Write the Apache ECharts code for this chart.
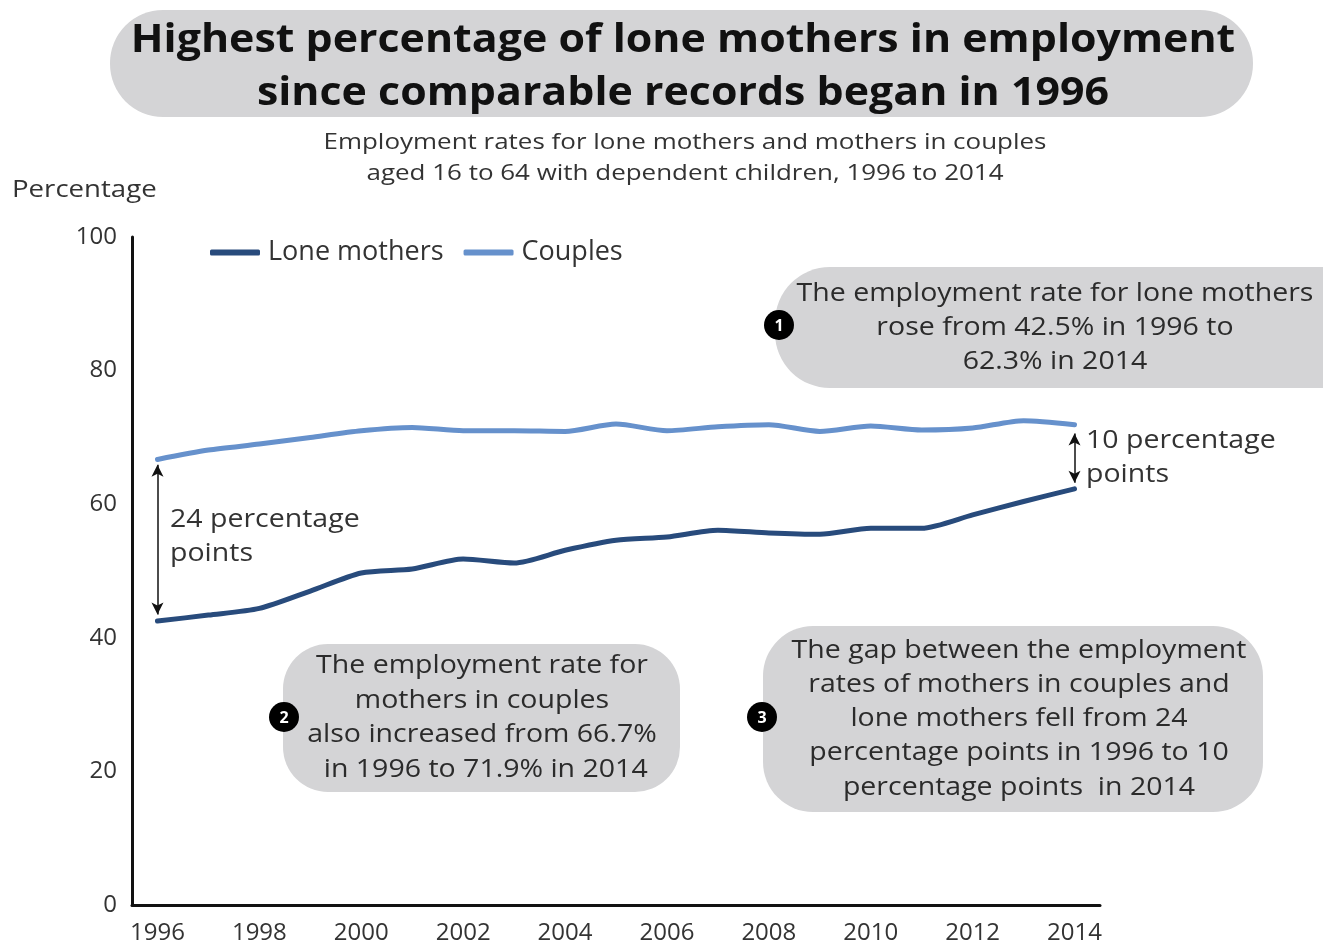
<!DOCTYPE html>
<html><head><meta charset="utf-8">
<script src="https://cdn.jsdelivr.net/npm/echarts@6/dist/echarts.min.js"></script>
<style>html,body{margin:0;padding:0;background:#fff}#c{width:1323px;height:948px}</style>
</head><body><div id="c"></div>
<script>
const years = ['1996','1997','1998','1999','2000','2001','2002','2003','2004','2005','2006','2007','2008','2009','2010','2011','2012','2013','2014'];
const loneMothers = [42.5,43.4,44.4,47.0,49.7,50.3,51.8,51.2,53.1,54.6,55.1,56.1,55.7,55.5,56.4,56.4,58.4,60.4,62.3];
const couples = [66.7,68.1,69.0,70.0,71.0,71.5,71.0,71.0,70.9,72.0,71.0,71.6,71.9,70.9,71.7,71.1,71.4,72.5,71.9];
const yTicks = [0,20,40,60,80,100];

const FONT = "'Open Sans', sans-serif";
const chart = echarts.init(document.getElementById('c'), null, {renderer:'canvas'});

function txt(text, x, y, font, fill, align, lh, sx) {
  return {type:'text', x:x, y:y, scaleX:sx||1, z:2,
    style:{text:text, x:0, y:0, font:font, fill:fill, align:align, verticalAlign:'middle', lineHeight:lh||0}};
}

function bubble(x, y, w, h, r, lines, cx, cy, num, tx, lh) {
  return [
    {type:'rect', shape:{x:x, y:y, width:w, height:h, r:r}, style:{fill:'#d4d4d6'}, z:1},
    txt(lines, tx, y+h/2, '25px '+FONT, '#2b2b2b', 'center', lh, 1.14),
    {type:'circle', shape:{cx:cx, cy:cy, r:15}, style:{fill:'#000'}, z:3},
    {type:'text', z:4, style:{text:num, x:cx, y:cy+1, font:'bold 16px '+FONT, fill:'#fff', align:'center', verticalAlign:'middle'}}
  ];
}

const arrowLine = (from, to) => ({
  symbol:['arrow','arrow'], symbolSize:[9,12], silent:true,
  lineStyle:{color:'#111', width:1.5, type:'solid'},
  label:{show:false},
  data:[[{coord:[from[0], from[1]]},{coord:[to[0], to[1]]}]]
});

const option = {
  animation:false,
  textStyle:{fontFamily:FONT},
  grid:{left:132, right:223, top:237, bottom:43, containLabel:false},
  legend:{
    left:205, top:234, itemWidth:50, itemHeight:6, itemGap:20, icon:'roundRect',
    textStyle:{fontSize:27, color:'#333', fontFamily:FONT, padding:[0,0,0,3]},
    data:['Lone mothers','Couples']
  },
  xAxis:{
    type:'category', data:years, boundaryGap:true,
    axisLine:{lineStyle:{color:'#111', width:3}},
    axisTick:{show:false},
    axisLabel:{interval:1, fontSize:24, color:'#333', margin:16, fontFamily:FONT}
  },
  yAxis:{
    type:'value', min:0, max:100, interval:20,
    axisLine:{show:true, lineStyle:{color:'#111', width:3}},
    axisTick:{show:false},
    splitLine:{show:false},
    axisLabel:{fontSize:24, color:'#333', margin:15, fontFamily:FONT}
  },
  series:[
    {name:'Lone mothers', type:'line', data:loneMothers, smooth:0.25, showSymbol:false,
     lineStyle:{color:'#284b7c', width:5, cap:'round', join:'round'}, itemStyle:{color:'#284b7c'},
     markLine: arrowLine([years[18], couples[18]-1.3],[years[18], loneMothers[18]+0.9])
    },
    {name:'Couples', type:'line', data:couples, smooth:0.25, showSymbol:false,
     lineStyle:{color:'#6691cc', width:5, cap:'round', join:'round'}, itemStyle:{color:'#6691cc'},
     markLine: arrowLine([years[0], couples[0]-0.8],[years[0], loneMothers[0]+1.0])
    }
  ],
  graphic:[
    {type:'rect', shape:{x:110, y:10, width:1143, height:107, r:53}, style:{fill:'#d4d4d6'}, z:1},
    txt('Highest percentage of lone mothers in employment\nsince comparable records began in 1996', 683, 67, 'bold 39px '+FONT, '#111', 'center', 53, 1.1),
    txt('Employment rates for lone mothers and mothers in couples\naged 16 to 64 with dependent children, 1996 to 2014', 685, 158, '22px '+FONT, '#333', 'center', 31, 1.18),
    txt('Percentage', 12, 190, '24px '+FONT, '#333', 'left', 0, 1.15),
    txt('24 percentage\npoints', 170, 537, '25px '+FONT, '#333', 'left', 34, 1.14),
    txt('10 percentage\npoints', 1086, 458, '25px '+FONT, '#333', 'left', 34, 1.14),
    ...bubble(775, 267, 600, 121, 55, 'The employment rate for lone mothers\nrose from 42.5% in 1996 to\n62.3% in 2014', 779, 325, '1', 1055, 34),
    ...bubble(283, 644, 397, 148, 45, 'The employment rate for\nmothers in couples\nalso increased from 66.7%\n in 1996 to 71.9% in 2014', 284, 717, '2', 482, 34.5),
    ...bubble(763, 626, 500, 186, 50, 'The gap between the employment\nrates of mothers in couples and\nlone mothers fell from 24\npercentage points in 1996 to 10\npercentage points  in 2014', 762, 717, '3', 1019, 34.3)
  ]
};
chart.setOption(option);
</script></body></html>
